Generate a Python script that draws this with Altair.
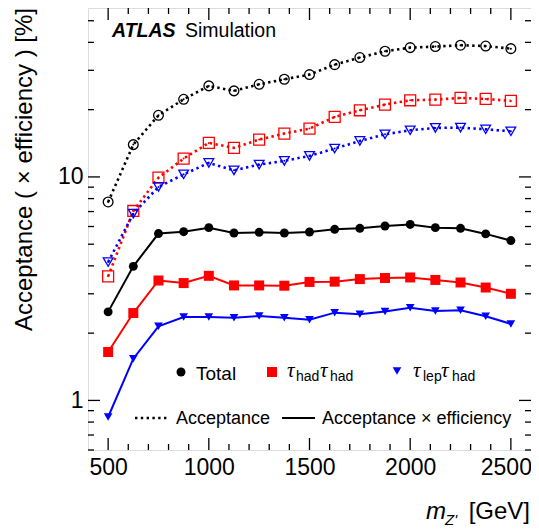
import altair as alt
import pandas as pd

# ---------------- data ----------------
mass = [500, 625, 750, 875, 1000, 1125, 1250, 1375, 1500, 1625, 1750, 1875, 2000, 2125, 2250, 2375, 2500]
acc_total = [7.73, 13.95, 18.87, 22.25, 25.55, 24.27, 25.97, 27.35, 28.7, 31.8, 34.2, 36.5, 37.9, 38.3, 38.85, 38.5, 37.5]
acc_hadhad = [3.59, 7.04, 9.93, 12.08, 14.2, 13.49, 14.69, 15.63, 16.45, 18.56, 19.87, 21.07, 22.03, 22.18, 22.57, 22.34, 21.88]
acc_lephad = [4.16, 6.85, 9.02, 10.27, 11.55, 10.7, 11.35, 11.8, 12.42, 13.39, 14.49, 15.51, 16.17, 16.57, 16.62, 16.33, 16.0]
eff_total = [2.49, 3.98, 5.58, 5.69, 5.93, 5.61, 5.65, 5.61, 5.67, 5.83, 5.89, 6.03, 6.13, 5.93, 5.89, 5.56, 5.19]
eff_hadhad = [1.647, 2.46, 3.44, 3.35, 3.61, 3.27, 3.27, 3.26, 3.39, 3.40, 3.49, 3.53, 3.55, 3.46, 3.37, 3.20, 3.00]
eff_lephad = [0.843, 1.537, 2.145, 2.362, 2.36, 2.345, 2.387, 2.345, 2.297, 2.47, 2.43, 2.50, 2.60, 2.51, 2.53, 2.38, 2.20]

x_major = [500, 1000, 1500, 2000, 2500]
x_minor = [600, 700, 800, 900, 1100, 1200, 1300, 1400, 1600, 1700, 1800, 1900, 2100, 2200, 2300, 2400]
y_major = [1, 10]
y_minor = [0.6, 0.7, 0.8, 0.9, 2, 3, 4, 5, 6, 7, 8, 9, 20, 30, 40, 50]

W, H = 443, 442
FONT = "Liberation Sans"
BLACK, RED, BLUE = "#000000", "#ff0000", "#0000ff"

xscale = alt.Scale(domain=[400, 2600], nice=False, zero=False)
yscale = alt.Scale(type="log", domain=[0.6, 57], nice=False)

xaxis = alt.Axis(values=x_major, format="d", ticks=False, domain=False, grid=False,
                 labelFontSize=23, labelFont=FONT, labelColor="black", labelPadding=6,
                 labelFlush=False, labelOverlap=False, title=None,
                 labelOffset={"condition": {"test": "datum.value == 2500", "value": -5}, "value": 0})
yaxis = alt.Axis(values=y_major, format="~g", ticks=False, domain=False, grid=False,
                 labelFontSize=23, labelFont=FONT, labelColor="black", labelPadding=5,
                 labelOverlap=False, title=None)


def X(field):
    return alt.X(field, type="quantitative", scale=xscale, axis=xaxis)


def Y(field):
    return alt.Y(field, type="quantitative", scale=yscale, axis=yaxis)


def series(vals):
    return pd.DataFrame({"mass": mass, "value": vals})


layers = []

# acceptance: dotted lines + open markers
for vals, col, shape, size in [(acc_total, BLACK, "circle", 95),
                                (acc_hadhad, RED, "square", 120),
                                (acc_lephad, BLUE, "triangle-down", 95)]:
    base = alt.Chart(series(vals))
    layers.append(base.mark_line(color=col, strokeWidth=2.6, strokeDash=[2.4, 3.4])
                  .encode(x=X("mass"), y=Y("value")))
    layers.append(base.mark_point(shape=shape, size=size, filled=False, color=col,
                                  strokeWidth=1.3, opacity=1)
                  .encode(x=X("mass"), y=Y("value")))
    layers.append(base.mark_point(shape="circle", size=4, filled=True, color=col, opacity=1)
                  .encode(x=X("mass"), y=Y("value")))

# acceptance x efficiency: solid lines + filled markers
for vals, col, shape, size in [(eff_total, BLACK, "circle", 80),
                                (eff_hadhad, RED, "square", 100),
                                (eff_lephad, BLUE, "triangle-down", 75)]:
    base = alt.Chart(series(vals))
    layers.append(base.mark_line(color=col, strokeWidth=2)
                  .encode(x=X("mass"), y=Y("value")))
    layers.append(base.mark_point(shape=shape, size=size, filled=True, color=col, opacity=1)
                  .encode(x=X("mass"), y=Y("value")))

# inward ticks on all four sides
xt_maj = alt.Chart(pd.DataFrame({"t": x_major}))
xt_min = alt.Chart(pd.DataFrame({"t": x_minor}))
yt_maj = alt.Chart(pd.DataFrame({"t": y_major}))
yt_min = alt.Chart(pd.DataFrame({"t": y_minor}))
for src, ln in [(xt_maj, 12), (xt_min, 6)]:
    layers.append(src.mark_rule(color="black", strokeWidth=1.3)
                  .encode(x=X("t"), y=alt.value(H), y2=alt.value(H - ln)))
    layers.append(src.mark_rule(color="black", strokeWidth=1.3)
                  .encode(x=X("t"), y=alt.value(0), y2=alt.value(ln)))
for src, ln in [(yt_maj, 12), (yt_min, 6)]:
    layers.append(src.mark_rule(color="black", strokeWidth=1.3)
                  .encode(y=Y("t"), x=alt.value(0), x2=alt.value(ln)))
    layers.append(src.mark_rule(color="black", strokeWidth=1.3)
                  .encode(y=Y("t"), x=alt.value(W), x2=alt.value(W - ln)))

one = alt.Chart(pd.DataFrame({"d": [0]}))


def text(s, x, y, size, **kw):
    params = dict(fontSize=size, font=FONT, color="black", align="left", baseline="alphabetic")
    params.update(kw)
    return one.mark_text(text=s, **params).encode(x=alt.value(x), y=alt.value(y))


# ATLAS label
layers.append(text("ATLAS", 24, 29, 19.5, fontWeight="bold", fontStyle="italic"))
layers.append(text("Simulation", 97, 29, 19.5))

# legend row 1
layers.append(one.mark_point(shape="circle", size=80, filled=True, color=BLACK, opacity=1)
              .encode(x=alt.value(93), y=alt.value(364)))
layers.append(text("Total", 108, 372, 19))
layers.append(one.mark_point(shape="square", size=100, filled=True, color=RED, opacity=1)
              .encode(x=alt.value(184), y=alt.value(364)))
layers.append(text("τ", 199, 369, 21, font="Liberation Serif", fontStyle="italic"))
layers.append(text("had", 208, 373, 14))
layers.append(text("τ", 232, 369, 21, font="Liberation Serif", fontStyle="italic"))
layers.append(text("had", 242, 373, 14))
layers.append(one.mark_point(shape="triangle-down", size=75, filled=True, color=BLUE, opacity=1)
              .encode(x=alt.value(309), y=alt.value(363)))
layers.append(text("τ", 325, 369, 21, font="Liberation Serif", fontStyle="italic"))
layers.append(text("lep", 335, 373, 14))
layers.append(text("τ", 353, 369, 21, font="Liberation Serif", fontStyle="italic"))
layers.append(text("had", 364, 373, 14))

# legend row 2
layers.append(one.mark_rule(color=BLACK, strokeWidth=2.6, strokeDash=[2.4, 3.4])
              .encode(x=alt.value(47), x2=alt.value(79), y=alt.value(410)))
layers.append(text("Acceptance", 88, 416, 18))
layers.append(one.mark_rule(color=BLACK, strokeWidth=2)
              .encode(x=alt.value(194), x2=alt.value(227), y=alt.value(410)))
layers.append(text("Acceptance × efficiency", 234, 416, 18))

# axis titles
layers.append(text("Acceptance ( × efficiency ) [%]", -56, 0, 24, angle=270, align="right"))
layers.append(text("m", 338, 511, 24, fontStyle="italic"))
layers.append(text("Z'", 357, 517, 15, fontStyle="italic"))
layers.append(text("[GeV]", W - 1, 511, 24, align="right"))

chart = alt.layer(*layers).properties(
    width=W, height=H,
    autosize=alt.AutoSizeParams(type="none"),
    padding={"left": 80, "top": 0, "right": 0, "bottom": 81},
).configure_view(stroke="black", strokeWidth=1.5).configure(background="white")

chart.save("out.html", embed_options={"renderer": "svg", "actions": False})
